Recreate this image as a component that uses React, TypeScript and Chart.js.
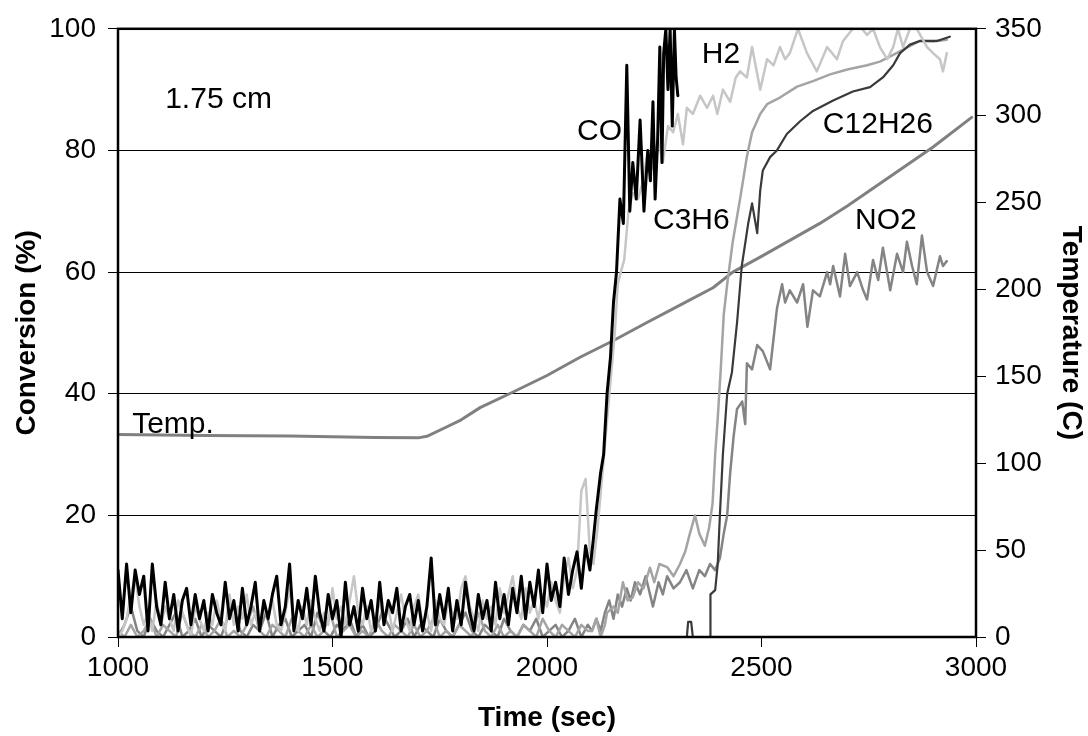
import React, { useEffect, useRef } from "react";
import { Chart, registerables } from "chart.js";

Chart.register(...registerables);

// ---- axes ----
const X_MIN = 1000;
const X_MAX = 3000;
const X_STEP = 500;
const Y_MAX = 100;
const Y_STEP = 20;
const Y2_MAX = 350;
const Y2_STEP = 50;

// ---- noisy baselines, sampled from 1000 s ----
const BASE_START = 1000;
const FINE_STEP = 10; // CO, H2
const COARSE_STEP = 15; // C3H6, NO2

const coBase = [
  11, 3, 12, 4, 11, 7, 10, 1, 12, 5,
  2, 9, 3, 7, 1, 6, 8, 2, 7, 3,
  6, 1, 7, 4, 2, 9, 3, 6, 1, 8,
  2, 5, 9, 1, 6, 3, 7, 10, 2, 5,
  12, 1, 6, 3, 8, 2, 10, 4, 1, 7,
  3, 6, 0, 9, 2, 5, 1, 8, 3, 6,
  1, 9, 2, 6, 4, 8, 1, 5, 7, 2,
  6, 1, 5, 13, 2, 7, 3, 8, 1, 6,
  2, 9, 4, 1, 7, 3, 6, 1, 9, 3,
  7, 2, 8, 4, 10, 3, 9, 5, 11, 4,
  12, 6, 9, 5, 13, 7, 11, 14, 8, 15,
];
const h2Base = [
  0, 1, 3, 7, 10, 5, 2, 4, 1, 6,
  2, 5, 3, 1, 6, 4, 2, 0, 5, 3,
  1, 4, 2, 6, 3, 1, 7, 2, 5, 3,
  7, 2, 4, 1, 5, 3, 6, 2, 1, 4,
  8, 3, 1, 5, 2, 6, 3, 1, 4, 2,
  8, 3, 5, 2, 6, 10, 4, 2, 5, 1,
  3, 6, 2, 5, 1, 4, 7, 3, 1, 5,
  7, 2, 4, 1, 6, 3, 2, 6, 4, 3,
  8, 10, 5, 3, 1, 6, 3, 5, 2, 8,
  4, 7, 10, 5, 3, 8, 4, 6, 3, 7,
  5, 9, 6, 4, 10, 13, 8, 11, 24, 26,
];
const c3h6Base = [
  1, 0, 2, 0, 1, 3, 0, 2, 1, 0,
  4, 1, 0, 2, 0, 1, 3, 0, 1, 0,
  2, 5, 1, 0, 2, 1, 0, 3, 1, 0,
  2, 0, 1, 4, 0, 1, 2, 0, 1, 0,
  3, 1, 0, 2, 1, 0, 2, 0, 1, 3,
  0, 1, 0, 2, 1, 0, 4, 1, 0, 2,
  0, 1, 0, 2, 1, 0, 3, 1, 0, 2,
  1, 0, 2, 1,
];
const no2Base = [
  0, 2, 5, 1, 0, 3, 1, 0, 2, 4,
  0, 1, 3, 0, 2, 1, 0, 3, 5, 1,
  0, 2, 1, 4, 0, 2, 3, 0, 1, 2,
  0, 4, 1, 0, 2, 1, 3, 0, 2, 0,
  1, 4, 2, 0, 1, 3, 0, 2, 1, 0,
  3, 1, 0, 2, 4, 1, 0, 2, 1, 0,
  3, 1, 0, 2, 1, 3, 0, 1, 2, 0,
  1, 3, 0, 2,
];

// ---- light-off parts (time s, conversion %) ----
const coTimes = [2100, 2108, 2115, 2125, 2132, 2140, 2148, 2155, 2162, 2170, 2178, 2186, 2193, 2200, 2208, 2217, 2226, 2235, 2241, 2247, 2252, 2258, 2263, 2268, 2272, 2277, 2282, 2287, 2292, 2297, 2301, 2305];
const coValues = [11, 16, 21, 27, 30, 40, 46, 55, 60, 72, 68, 94, 70, 78, 72, 85, 70, 80, 75, 88, 72, 82, 97, 78, 96, 100, 90, 100, 84, 100, 92, 89];

const h2Times = [2100, 2108, 2118, 2128, 2138, 2148, 2158, 2165, 2172, 2180, 2190, 2200, 2212, 2224, 2235, 2247, 2258, 2270, 2282, 2294, 2305, 2317, 2326, 2340, 2357, 2373, 2387, 2397, 2410, 2427, 2440, 2450, 2466, 2478, 2497, 2513, 2528, 2543, 2555, 2566, 2585, 2606, 2629, 2653, 2676, 2690, 2713, 2734, 2746, 2760, 2776, 2793, 2807, 2818, 2830, 2846, 2862, 2886, 2900, 2916, 2923, 2932];
const h2Values = [14, 12, 18, 26, 34, 42, 50, 58, 60, 62, 70, 73, 72, 75, 80, 77, 82, 78, 84, 83, 86, 81, 87, 86, 89, 87, 89, 86, 90, 88, 92, 93, 92, 97, 90, 95, 94, 97, 95, 96, 100, 96, 93, 97, 95, 98, 100, 100, 99, 100, 97, 95, 97, 100, 97, 100, 100, 97, 96, 95, 93, 96];

const c3h6Times = [2105, 2115, 2125, 2135, 2140, 2155, 2165, 2177, 2188, 2200, 2212, 2225, 2240, 2250, 2262, 2280, 2295, 2310, 2322, 2333, 2345, 2355, 2368, 2378, 2386, 2392, 2398, 2405, 2412, 2420, 2433, 2450, 2466, 2478, 2497, 2513, 2543, 2583, 2620, 2660, 2700, 2746, 2776, 2807, 2839, 2869, 2900, 2932];
const c3h6Values = [1, 3, 0, 2, 4, 5, 4, 9, 6, 6.5, 9, 8, 11.4, 9, 12, 11.5, 10, 12, 14, 17, 20, 17, 15, 18, 22, 30, 36, 44, 53, 58, 65, 72, 79, 83, 86, 87.6, 88.7, 90.5, 91.4, 92.5, 93.3, 94, 94.6, 95.7, 96.9, 98, 97.9, 98.2];

const no2Times = [2105, 2115, 2125, 2135, 2145, 2155, 2165, 2175, 2186, 2195, 2205, 2217, 2230, 2247, 2260, 2270, 2280, 2295, 2310, 2325, 2340, 2355, 2368, 2380, 2392, 2403, 2412, 2420, 2427, 2435, 2443, 2455, 2462, 2466, 2478, 2490, 2503, 2520, 2536, 2548, 2555, 2566, 2583, 2597, 2607, 2620, 2636, 2653, 2660, 2667, 2683, 2695, 2706, 2723, 2737, 2746, 2760, 2772, 2783, 2800, 2816, 2830, 2839, 2851, 2862, 2874, 2886, 2900, 2916, 2923, 2932];
const no2Values = [1, 3, 1, 4, 6, 3, 7, 5, 8, 6, 9, 7, 10, 5, 9, 7, 10, 8, 9, 11, 8, 11, 10, 12, 11, 13, 17, 20, 27, 33, 37.5, 38.7, 35, 45, 44, 48, 47, 44, 54, 58, 55, 57, 55, 58, 51, 57, 56, 60, 58, 61, 56, 63, 57.7, 60, 57, 55.5, 62, 58.7, 64, 57, 63, 60, 65, 61, 58, 66, 60, 57.7, 62.6, 61, 61.8];

const c12Times = [1000, 2326, 2329, 2336, 2340, 2380, 2381, 2392, 2398, 2403, 2410, 2420, 2431, 2443, 2454, 2462, 2469, 2478, 2490, 2497, 2503, 2520, 2536, 2559, 2590, 2620, 2667, 2713, 2753, 2783, 2807, 2823, 2846, 2869, 2909, 2939];
const c12Values = [0, 0, 2.5, 2.5, 0, 0, 7, 7.7, 12, 20, 30, 40, 43.5, 51.7, 61, 64.7, 68, 71.3, 66.4, 73.4, 76.7, 78.9, 80, 82.7, 84.8, 86.5, 88.2, 89.7, 90.4, 92, 94, 96, 97.4, 98, 98, 98.7];

// ---- temperature (°C, right axis) ----
const tempTimes = [1000, 1100, 1200, 1300, 1400, 1500, 1600, 1700, 1720, 1767, 1800, 1844, 1921, 2000, 2077, 2154, 2233, 2310, 2387, 2433, 2500, 2636, 2700, 2800, 2900, 2990];
const tempValues = [116.5, 116.3, 116, 115.8, 115.6, 115.3, 114.8, 114.6, 115.5, 121, 125, 132, 141, 150.5, 161, 170.5, 181, 191, 201, 210, 219, 238, 248, 265, 282, 299];

// ---- text annotations (time, conversion) ----
const labelTexts = ["1.75 cm", "H2", "CO", "C3H6", "C12H26", "NO2", "Temp."];
const labelTimes = [1110, 2361, 2070, 2247, 2643, 2718, 1033];
const labelValues = [88.4, 95.8, 83, 68.4, 84.2, 68.4, 34.9];

const FONT = "'Liberation Sans', Arial, Helvetica, sans-serif";

function grid(n: number, step: number) {
  return Array.from({ length: n }, (_, i) => BASE_START + step * i);
}
function pts(times: number[], values: number[]) {
  return times.map((t, i) => ({ x: t, y: values[i] }));
}
function withBase(base: number[], step: number, times: number[], values: number[]) {
  return pts(grid(base.length, step), base).concat(pts(times, values));
}

const framePlugin = {
  id: "frameAndLabels",
  afterDraw(chart: any) {
    const { ctx, chartArea } = chart;
    const xs = chart.scales.x;
    const ys = chart.scales.y;
    ctx.save();
    ctx.strokeStyle = "#000";
    ctx.lineWidth = 2.5;
    ctx.strokeRect(chartArea.left, chartArea.top, chartArea.right - chartArea.left, chartArea.bottom - chartArea.top);
    ctx.fillStyle = "#000";
    ctx.font = `30px ${FONT}`;
    ctx.textAlign = "left";
    ctx.textBaseline = "middle";
    labelTexts.forEach((txt, i) => {
      ctx.fillText(txt, xs.getPixelForValue(labelTimes[i]), ys.getPixelForValue(labelValues[i]));
    });
    ctx.restore();
  },
};

export default function App() {
  const ref = useRef<HTMLCanvasElement | null>(null);
  useEffect(() => {
    if (!ref.current) return;
    const line = (label: string, data: any[], color: string, width: number, axis = "y") => ({
      label,
      data,
      borderColor: color,
      backgroundColor: color,
      borderWidth: width,
      pointRadius: 0,
      tension: 0,
      fill: false,
      yAxisID: axis,
      borderJoinStyle: "round",
      borderCapStyle: "round",
    });
    const plain = (v: any) => String(v);
    const chart = new Chart(ref.current, {
      type: "line",
      data: {
        datasets: [
          line("CO", withBase(coBase, FINE_STEP, coTimes, coValues), "#000000", 3),
          line("H2", withBase(h2Base, FINE_STEP, h2Times, h2Values), "#c6c6c6", 2.5),
          line("C12H26", pts(c12Times, c12Values), "#3a3a3a", 2.2),
          line("C3H6", withBase(c3h6Base, COARSE_STEP, c3h6Times, c3h6Values), "#a4a4a4", 2.5),
          line("NO2", withBase(no2Base, COARSE_STEP, no2Times, no2Values), "#848484", 2.5),
          line("Temp.", pts(tempTimes, tempValues), "#808080", 3, "y2"),
        ] as any,
      },
      options: {
        responsive: false,
        animation: false,
        events: [],
        layout: { padding: { top: 24, left: 0, right: 0, bottom: 0 } },
        plugins: { legend: { display: false }, tooltip: { enabled: false } },
        scales: {
          x: {
            type: "linear",
            min: X_MIN,
            max: X_MAX,
            ticks: { stepSize: X_STEP, color: "#000", font: { family: FONT, size: 28 }, padding: 4, maxRotation: 0, callback: plain },
            grid: { drawOnChartArea: false, drawTicks: true, tickLength: 10, color: "#000", lineWidth: 1 },
            border: { display: false },
            title: { display: true, text: "Time (sec)", color: "#000", font: { family: FONT, size: 28, weight: "bold", lineHeight: 1 }, padding: { top: 0, bottom: 4 } },
            afterFit: (s: any) => { s.height = 99; },
          },
          y: {
            type: "linear",
            position: "left",
            min: 0,
            max: Y_MAX,
            ticks: { stepSize: Y_STEP, color: "#000", font: { family: FONT, size: 28 }, padding: 12, callback: plain },
            grid: { drawOnChartArea: true, drawTicks: true, tickLength: 10, color: "#000", lineWidth: 1 },
            border: { display: false },
            title: { display: true, text: "Conversion (%)", color: "#000", font: { family: FONT, size: 28, weight: "bold", lineHeight: 1 }, padding: { top: 13, bottom: 0 } },
            afterFit: (s: any) => { s.width = 118; },
          },
          y2: {
            type: "linear",
            position: "right",
            min: 0,
            max: Y2_MAX,
            ticks: { stepSize: Y2_STEP, color: "#000", font: { family: FONT, size: 28 }, padding: 9, callback: plain },
            grid: { drawOnChartArea: false, drawTicks: true, tickLength: 10, color: "#000", lineWidth: 1 },
            border: { display: false },
            title: { display: true, text: "Temperature (C)", color: "#000", font: { family: FONT, size: 28, weight: "bold", lineHeight: 1 }, padding: { top: 3, bottom: 0 } },
            afterFit: (s: any) => { s.width = 112; },
          },
        },
      },
      plugins: [framePlugin],
    });
    return () => chart.destroy();
  }, []);
  return (
    <div style={{ position: "absolute", left: 0, top: 0, width: 1088, height: 736, background: "#fff" }}>
      <canvas ref={ref} width={1088} height={736} style={{ display: "block" }} />
    </div>
  );
}
